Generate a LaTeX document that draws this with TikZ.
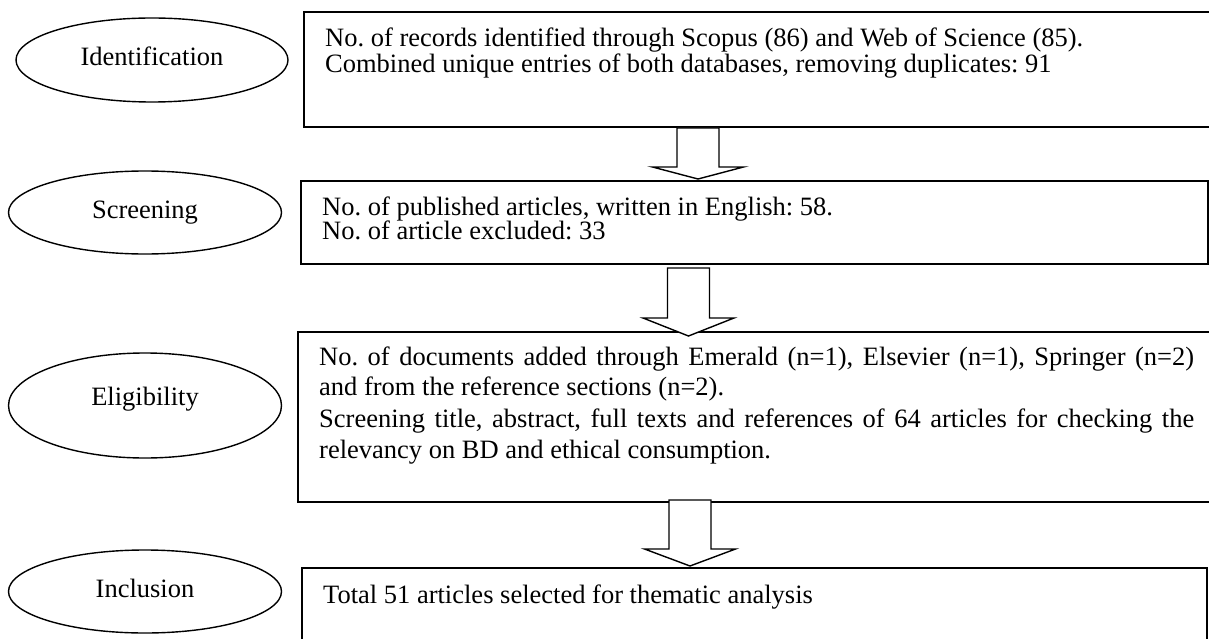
\documentclass[tikz,border=0pt]{standalone}
\usepackage{fontspec}
\setmainfont{Liberation Serif}
\usetikzlibrary{shapes.geometric}
\frenchspacing
\newcommand\flowarrow[5]{% #1 top coord, #2 tip coord, #3 top shift down, #4 tip shift down, #5 head length
  \draw[blockarrow]
    ([xshift=-21pt,yshift={-(#3)}]#1) --
    ([xshift=-21pt,yshift={-(#4)+(#5)}]#2) --
    ([xshift=-45.5pt,yshift={-(#4)+(#5)}]#2) --
    ([yshift={-(#4)}]#2) --
    ([xshift=45.5pt,yshift={-(#4)+(#5)}]#2) --
    ([xshift=21pt,yshift={-(#4)+(#5)}]#2) --
    ([xshift=21pt,yshift={-(#3)}]#1) -- cycle;}
\begin{document}
\frenchspacing
\begin{tikzpicture}[x=1pt,y=-1pt,
  stage/.style={draw, ellipse, line width=1.4pt, inner sep=0pt, outer sep=0pt,
    minimum width=273pt, minimum height=83pt, text height=18pt, text depth=6pt,
    font=\fontsize{26.5}{28}\selectfont},
  box/.style={draw, line width=1.4pt, anchor=north west, inner sep=0pt, outer sep=0pt},
  txt/.style={anchor=base west, inner sep=0pt, font=\fontsize{26.5}{28}\selectfont},
  blockarrow/.style={draw, line width=1.4pt, fill=white, line join=miter}]
\useasboundingbox (0,0) rectangle (1209,639);
\clip (0,0) rectangle (1209,639);

% stage ellipses
\node[stage, minimum width=272pt, minimum height=84pt] (e1) at (152,60) {Identification};
\node[stage] (e2) at (145,212.5) {Screening};
\node[stage, minimum height=105pt, text height=12pt, text depth=12pt] (e3) at (145,405.5) {Eligibility};
\node[stage] (e4) at (145,591.5) {Inclusion};

% boxes
\node[box, minimum width=915pt, minimum height=115pt] (b1) at (304,12) {};
\node[box, minimum width=907pt, minimum height=83pt] (b2) at (301,181) {};
\node[box, minimum width=920pt, minimum height=170pt] (b3) at (298,332) {};
\node[box, minimum width=905pt, minimum height=80pt] (b4) at (302,568) {};

% texts
\node[txt] (t11) at (325,47) {No. of records identified through Scopus (86) and Web of Science (85).};
\node[txt] (t12) at (325,73) {Combined unique entries of both databases, removing duplicates: 91};
\node[txt] (t21) at (322,215) {No. of published articles, written in English: 58.};
\node[txt] (t22) at (322,239) {No. of article excluded: 33};
\node[txt] (t31) at (319,365) {\makebox[875pt][s]{No. of documents added through Emerald (n=1), Elsevier (n=1), Springer (n=2)}};
\node[txt] (t32) at (319,395.5) {and from the reference sections (n=2).};
\node[txt] (t33) at (319,427) {\makebox[875pt][s]{Screening title, abstract, full texts and references of 64 articles for checking the}};
\node[txt] (t34) at (319,458) {relevancy on BD and ethical consumption.};
\node[txt] (t41) at (323,603) {Total 51 articles selected for thematic analysis};

% block arrows
\coordinate (x1) at (698,0);
\coordinate (x2) at (688.5,0);
\coordinate (x3) at (690,0);
\flowarrow{x1 |- b1.south}{x1 |- b2.north}{1pt}{-2pt}{12pt}
\flowarrow{x2 |- b2.south}{x2 |- b3.north}{4pt}{4pt}{18pt}
\flowarrow{x3 |- b3.south}{x3 |- b4.north}{-2pt}{-2pt}{17pt}
\end{tikzpicture}
\end{document}
